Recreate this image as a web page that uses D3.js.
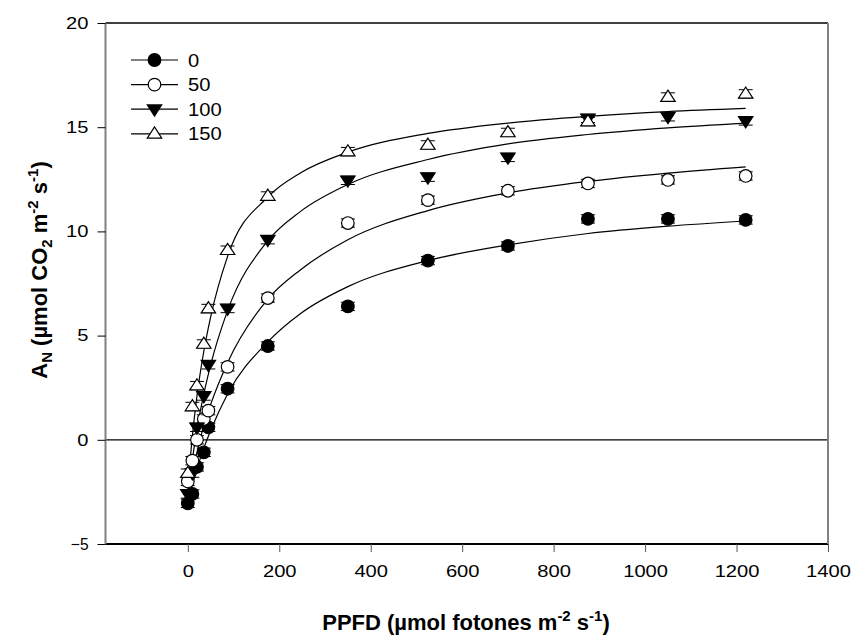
<!DOCTYPE html>
<html>
<head>
<meta charset="utf-8">
<script src="https://cdn.jsdelivr.net/npm/d3@7"></script>
<style>
  body { margin: 0; background: #fff; }
  svg { display: block; font-family: "Liberation Sans", Arial, sans-serif; }
</style>
</head>
<body>
<svg id="chart" width="851" height="637"></svg>
<script>
// ---------------- data ----------------
const ppfd = [0, 10, 20, 35, 45, 87, 175, 350, 525, 700, 875, 1050, 1220];
const series0   = [-3.05, -2.6, -1.3, -0.6, 0.6, 2.45, 4.5, 6.4, 8.6, 9.3, 10.6, 10.6, 10.55];
const series50  = [-2.0, -1.0, 0.0, 1.0, 1.4, 3.5, 6.8, 10.4, 11.5, 11.95, 12.3, 12.47, 12.66];
const series100 = [-2.6, -1.6, 0.6, 2.1, 3.6, 6.3, 9.6, 12.45, 12.6, 13.55, 15.42, 15.5, 15.3];
const series150 = [-1.6, 1.6, 2.6, 4.6, 6.3, 9.1, 11.7, 13.83, 14.15, 14.75, 15.27, 16.45, 16.6];
const errorBars = [0.2, 0.2, 0.2, 0.2, 0.2, 0.2, 0.2, 0.2, 0.2, 0.2, 0.2, 0.2, 0.2];

// fitted curves
const fitX   = [0, 10, 20, 35, 50, 87, 175, 246, 350, 525, 700, 875, 1050, 1220];
const fit0   = [-3.0, -2.15, -1.4, -0.4, 0.45, 2.2, 4.7, 6.05, 7.35, 8.6, 9.35, 9.9, 10.25, 10.5];
const fit50  = [-2.4, -1.45, -0.6, 0.7, 1.7, 3.7, 6.75, 8.15, 9.6, 11.0, 11.85, 12.4, 12.8, 13.1];
const fit100 = [-2.6, -0.95, 0.5, 2.2, 3.6, 6.2, 9.55, 10.95, 12.25, 13.45, 14.2, 14.65, 14.97, 15.2];
const fit150 = [-2.2, 0.2, 2.1, 4.25, 5.9, 8.8, 11.65, 12.8, 13.8, 14.7, 15.2, 15.52, 15.75, 15.9];

const seriesNames = ["0", "50", "100", "150"];
const xTicks = [0, 200, 400, 600, 800, 1000, 1200, 1400];
const yTicks = [-5, 0, 5, 10, 15, 20];

// ---------------- chart ----------------
const svg = d3.select("#chart");
const L = 105.5, R = 828, T = 23, B = 544;
const x = d3.scaleLinear().domain([-180, 1400]).range([L, R]);
const y = d3.scaleLinear().domain([-5, 20]).range([B, T]);

const seriesVals = [series0, series50, series100, series150];
const fits = [fit0, fit50, fit100, fit150];
const shapes = ["circleFilled", "circleOpen", "triDownFilled", "triUpOpen"];

// zero line
svg.append("line")
  .attr("x1", L).attr("x2", R).attr("y1", y(0)).attr("y2", y(0))
  .attr("stroke", "#000").attr("stroke-width", 1.2);

// fitted curves
const line = d3.line().x(d => x(d[0])).y(d => y(d[1])).curve(d3.curveMonotoneX);
fits.forEach(f => {
  svg.append("path")
    .datum(fitX.map((v, i) => [v, f[i]]))
    .attr("d", line)
    .attr("fill", "none").attr("stroke", "#000").attr("stroke-width", 1.2);
});

function drawMarker(g, shape, cx, cy) {
  if (shape === "circleFilled" || shape === "circleOpen") {
    g.append("circle").attr("cx", cx).attr("cy", cy).attr("r", 6.3)
      .attr("fill", shape === "circleFilled" ? "#000" : "#fff")
      .attr("stroke", "#000").attr("stroke-width", 1.2);
  } else {
    const s = 7.2;
    let pts;
    if (shape === "triDownFilled") {
      pts = [[cx - s, cy - s * 0.6], [cx + s, cy - s * 0.6], [cx, cy + s * 0.95]];
    } else {
      pts = [[cx - s, cy + s * 0.6], [cx + s, cy + s * 0.6], [cx, cy - s * 0.95]];
    }
    g.append("polygon").attr("points", pts.map(p => p.join(",")).join(" "))
      .attr("fill", shape === "triDownFilled" ? "#000" : "#fff")
      .attr("stroke", "#000").attr("stroke-width", 1.2);
  }
}

// points with error bars
seriesVals.forEach((vals, si) => {
  const g = svg.append("g");
  ppfd.forEach((px, i) => {
    const cx = x(px), cy = y(vals[i]);
    const e = errorBars[i];
    g.append("line").attr("x1", cx).attr("x2", cx).attr("y1", y(vals[i] - e)).attr("y2", y(vals[i] + e))
      .attr("stroke", "#000").attr("stroke-width", 1);
    [vals[i] - e, vals[i] + e].forEach(v => {
      g.append("line").attr("x1", cx - 7).attr("x2", cx + 7).attr("y1", y(v)).attr("y2", y(v))
        .attr("stroke", "#000").attr("stroke-width", 1);
    });
    drawMarker(g, shapes[si], cx, cy);
  });
});

// frame
svg.append("line").attr("x1", L).attr("x2", R).attr("y1", T).attr("y2", T).attr("stroke", "#000").attr("stroke-width", 1.5);
svg.append("line").attr("x1", L).attr("x2", R).attr("y1", B).attr("y2", B).attr("stroke", "#000").attr("stroke-width", 1.8);
svg.append("line").attr("x1", L).attr("x2", L).attr("y1", T).attr("y2", B).attr("stroke", "#808080").attr("stroke-width", 2);
svg.append("line").attr("x1", R).attr("x2", R).attr("y1", T).attr("y2", B).attr("stroke", "#808080").attr("stroke-width", 2);

// width of a label in the reference's slightly wide lettering
function labelLen(s) {
  let w = 0;
  for (const c of s) w += (c === "-" ? 6.5 : 11.2);
  return w;
}

// axes
const xAxis = d3.axisBottom(x).tickValues(xTicks).tickSize(8).tickPadding(13).tickFormat(d3.format("d"));
const gx = svg.append("g").attr("transform", `translate(0,${B})`).call(xAxis);
gx.select(".domain").remove();
gx.selectAll(".tick line").attr("stroke", "#555").attr("stroke-width", 1);
gx.selectAll(".tick text").attr("font-size", 16.5).attr("fill", "#000")
  .attr("font-family", "'Liberation Sans', Arial, sans-serif")
  .attr("textLength", d => labelLen(String(d))).attr("lengthAdjust", "spacingAndGlyphs");

const yAxis = d3.axisLeft(y).tickValues(yTicks).tickSize(8).tickPadding(9).tickFormat(d3.format("d"));
const gy = svg.append("g").attr("transform", `translate(${L},0)`).call(yAxis);
gy.select(".domain").remove();
gy.selectAll(".tick line").attr("stroke", "#000").attr("stroke-width", 1);
gy.selectAll(".tick text").attr("font-size", 16.5).attr("fill", "#000")
  .attr("font-family", "'Liberation Sans', Arial, sans-serif")
  .attr("textLength", d => labelLen(String(d))).attr("lengthAdjust", "spacingAndGlyphs");

// axis titles
const xt = svg.append("text").attr("x", 466).attr("y", 630).attr("text-anchor", "middle")
  .attr("font-size", 22).attr("font-weight", "bold");
xt.append("tspan").text("PPFD (\u00b5mol fotones m");
xt.append("tspan").attr("dy", -9).attr("font-size", 15).text("-2");
xt.append("tspan").attr("dy", 9).text(" s");
xt.append("tspan").attr("dy", -9).attr("font-size", 15).text("-1");
xt.append("tspan").attr("dy", 9).text(")");

const yt = svg.append("text").attr("transform", `translate(47,270) rotate(-90)`).attr("text-anchor", "middle")
  .attr("font-size", 22).attr("font-weight", "bold");
yt.append("tspan").text("A");
yt.append("tspan").attr("dy", 5).attr("font-size", 15).text("N");
yt.append("tspan").attr("dy", -5).text(" (\u00b5mol CO");
yt.append("tspan").attr("dy", 5).attr("font-size", 15).text("2");
yt.append("tspan").attr("dy", -5).text(" m");
yt.append("tspan").attr("dy", -9).attr("font-size", 15).text("-2");
yt.append("tspan").attr("dy", 9).text(" s");
yt.append("tspan").attr("dy", -9).attr("font-size", 15).text("-1");
yt.append("tspan").attr("dy", 9).text(")");

// legend
const legY0 = 60, legDy = 24.6;
seriesNames.forEach((name, i) => {
  const ly = legY0 + i * legDy;
  const g = svg.append("g");
  g.append("line").attr("x1", 131).attr("x2", 178).attr("y1", ly).attr("y2", ly)
    .attr("stroke", "#000").attr("stroke-width", 1.2);
  drawMarker(g, shapes[i], 154.5, ly);
  g.append("text").attr("x", 188).attr("y", ly + 6.5).attr("font-size", 17.5)
    .attr("textLength", labelLen(name)).attr("lengthAdjust", "spacingAndGlyphs").text(name);
});
</script>
</body>
</html>
